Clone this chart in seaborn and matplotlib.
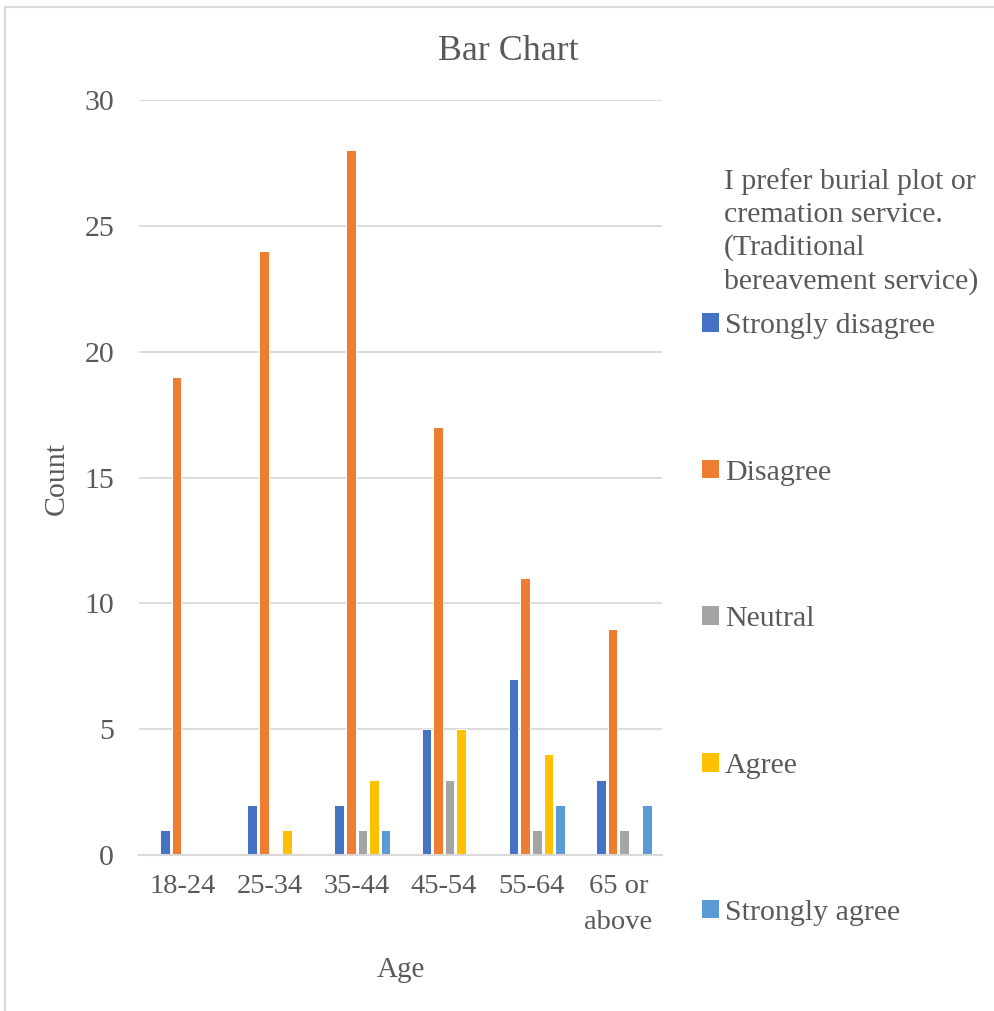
import matplotlib
matplotlib.use("Agg")
import matplotlib.pyplot as plt
from matplotlib.patches import Patch, Rectangle
from matplotlib.transforms import ScaledTranslation
import seaborn as sns
import pandas as pd

# Survey counts by age group and response
ages = ["18-24", "25-34", "35-44", "45-54", "55-64", "65 or\nabove"]
responses = ["Strongly disagree", "Disagree", "Neutral", "Agree", "Strongly agree"]
strongly_disagree = [1, 2, 2, 5, 7, 3]
disagree = [19, 24, 28, 17, 11, 9]
neutral = [0, 0, 1, 3, 1, 1]
agree = [0, 1, 3, 5, 4, 0]
strongly_agree = [0, 0, 1, 0, 2, 2]
colors = ["#4472C4", "#ED7D31", "#A5A5A5", "#FFC000", "#5B9BD5"]
legend_title = "I prefer burial plot or\ncremation service.\n(Traditional\nbereavement service)"

series = [strongly_disagree, disagree, neutral, agree, strongly_agree]
rows = []
for resp, vals in zip(responses, series):
    for age, v in zip(ages, vals):
        rows.append({"Age": age, "Count": v, "Response": resp})
df = pd.DataFrame(rows)

sns.set_theme(style="white")
plt.rcParams["font.family"] = ["Liberation Serif", "DejaVu Serif"]
text_color = "#595959"
grid_color = "#D9D9D9"

W, H = 994, 1011
fig = plt.figure(figsize=(W / 100, H / 100), dpi=100)
fig.patch.set_facecolor("white")
ax = fig.add_axes([139 / W, 1 - 855 / H, (662 - 139) / W, (855 - 100) / H])

sns.barplot(data=df, x="Age", y="Count", hue="Response", hue_order=responses,
            order=ages, palette=colors, saturation=1, width=0.665, gap=0.17,
            edgecolor="white", linewidth=0.7, legend=False, ax=ax, zorder=2)

# bar clusters sit slightly right of the category label centres
shift = 0.064
ax.set_xlim(-0.5 - shift, len(ages) - 0.5 - shift)
label_offset = ScaledTranslation(-shift * (662 - 139) / len(ages) / 100, 0,
                                 fig.dpi_scale_trans)

ax.set_ylim(0, 30)
ax.set_yticks(range(0, 31, 5))
ax.yaxis.grid(True, color=grid_color, linewidth=1.3, zorder=0)
ax.set_axisbelow(True)
for s in ["top", "right", "left"]:
    ax.spines[s].set_visible(False)
ax.spines["bottom"].set_color(grid_color)
ax.spines["bottom"].set_linewidth(1.5)
ax.spines["bottom"].set_zorder(5)
ax.tick_params(axis="both", length=0, colors=text_color)
ax.tick_params(axis="y", pad=18, labelsize=21.5)
ax.tick_params(axis="x", pad=14, labelsize=20.5)
for lab in ax.get_xticklabels():
    lab.set_linespacing(1.55)
    lab.set_transform(lab.get_transform() + label_offset)

ax.set_xlabel("Age", fontsize=21, color=text_color)
ax.set_ylabel("Count", fontsize=21.5, color=text_color)
ax.xaxis.set_label_coords(401 / W, 1 - 970 / H, transform=fig.transFigure)
ax.xaxis.label.set_va("center")
ax.yaxis.set_label_coords(57 / W, 1 - 478 / H, transform=fig.transFigure)
ax.yaxis.label.set_va("center")

fig.text(508 / W, 1 - 51 / H, "Bar Chart", ha="center", va="center",
         fontsize=25.8, color=text_color)

# Legend title and entries on the right
fig.text(724 / W, 1 - 168 / H, legend_title, ha="left", va="top",
         fontsize=21.5, color=text_color, linespacing=1.33)
handles = [Patch(facecolor=c, edgecolor="none") for c in colors]
leg = fig.legend(handles, responses, loc="upper left",
                 bbox_to_anchor=(690 / W, 1 - 301 / H), frameon=False,
                 fontsize=21.5, handlelength=0.57, handleheight=0.57,
                 handletextpad=0.2, labelspacing=4.04, borderaxespad=0)
for t in leg.get_texts():
    t.set_color(text_color)

# Chart area border
fig.patches.append(Rectangle((5 / W, -0.2), 1.2, 1.2 - 7 / H,
                             transform=fig.transFigure, fill=False,
                             edgecolor=grid_color, linewidth=1.5))

fig.savefig("out.png", dpi=100, facecolor="white")
